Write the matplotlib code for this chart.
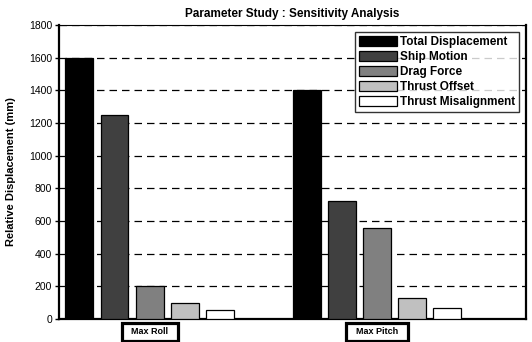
import matplotlib
matplotlib.use("Agg")
import matplotlib.pyplot as plt
import numpy as np

categories = ["Max Roll", "Max Pitch"]
series = ["Total Displacement", "Ship Motion", "Drag Force", "Thrust Offset", "Thrust Misalignment"]
total_disp = [1600, 1400]
ship_motion = [1250, 720]
drag_force = [200, 555]
thrust_offset = [100, 130]
thrust_misalign = [55, 65]
colors = ["#000000", "#404040", "#808080", "#c0c0c0", "#ffffff"]

plt.rcParams['font.family'] = ['Liberation Sans', 'DejaVu Sans']

fig = plt.figure(figsize=(5.32, 3.42), dpi=100)
ax = fig.add_axes([59/532, 1-319/342, (526-59)/532, (319-25)/342])

values = [total_disp, ship_motion, drag_force, thrust_offset, thrust_misalign]
x = np.arange(len(categories))
step = 0.154
width = 0.123
for i, (name, vals, c) in enumerate(zip(series, values, colors)):
    ax.bar(x + (i - 2) * step, vals, width, color=c, edgecolor='black',
           linewidth=0.9, label=name, zorder=3)

ax.set_ylim(0, 1800)
ax.set_xlim(-0.398, 1.655)
ax.set_yticks(np.arange(0, 1801, 200))
ax.tick_params(axis='y', labelsize=7.5, length=3, width=1, pad=2)
ax.yaxis.grid(True, linestyle=(0, (6, 4)), color='black', linewidth=0.9, zorder=0)
ax.set_axisbelow(True)
for s in ax.spines.values():
    s.set_linewidth(1.6)
    s.set_color('black')
ax.spines['top'].set_linewidth(0.8)

ax.set_xticks(x)
ax.set_xticklabels(["  " + c + "  " for c in categories])
ax.tick_params(axis='x', length=0, pad=6, labelsize=6.5)
for lbl in ax.get_xticklabels():
    lbl.set_fontweight('bold')
    lbl.set_bbox(dict(boxstyle='square,pad=0.5', facecolor='white', edgecolor='black', linewidth=2.3))

ax.set_ylabel("Relative Displacement (mm)", fontsize=8, fontweight='bold', labelpad=9)
ax.set_title("Parameter Study : Sensitivity Analysis", fontsize=8.5, fontweight='bold', pad=6)

leg = ax.legend(loc='upper right', prop={'weight': 'bold', 'size': 8.5},
                frameon=True, fancybox=False, edgecolor='black', handlelength=3.2,
                handleheight=0.95, handletextpad=0.3, labelspacing=0.25,
                borderpad=0.3, borderaxespad=0.6)
leg.get_frame().set_linewidth(1.0)

fig.savefig("out.png", dpi=100)
